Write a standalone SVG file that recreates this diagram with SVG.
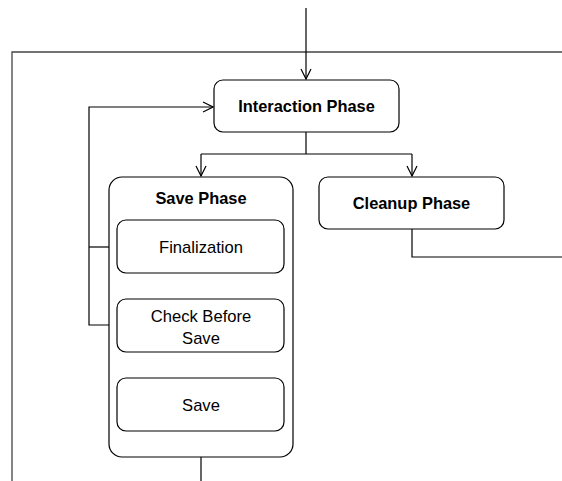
<svg xmlns="http://www.w3.org/2000/svg" width="562" height="481" viewBox="0 0 562 481">
<style>
.box{fill:#fff;stroke:#000;stroke-width:1.2}
.ln{fill:none;stroke:#000;stroke-width:1.2}
.frame{fill:none;stroke:#444;stroke-width:1.3}
text{font-family:"Liberation Sans",Arial,sans-serif;font-size:16.6px;text-anchor:middle;fill:#000}
.b{font-weight:bold;font-size:16.4px}
</style>
<defs>
<marker id="arr" viewBox="0 0 12 12" refX="11" refY="6" markerWidth="12" markerHeight="12" markerUnits="userSpaceOnUse" orient="auto">
<path d="M1,1 L11,6 L1,11" fill="none" stroke="#000" stroke-width="1.2"/>
</marker>
</defs>
<path class="frame" d="M562,52 H12 V481"/>
<g id="connectors">
<path class="ln" d="M306,8 V79" marker-end="url(#arr)"/>
<path class="ln" d="M306,132 V154 M201,154 H412"/>
<path class="ln" d="M201,154 V176" marker-end="url(#arr)"/>
<path class="ln" d="M412,154 V176" marker-end="url(#arr)"/>
<path class="ln" d="M412,229 V257 H562"/>
<path class="ln" d="M201,273 V298" marker-end="url(#arr)"/>
<path class="ln" d="M201,352 V377" marker-end="url(#arr)"/>
<path class="ln" d="M201,457 V481"/>
<path class="ln" d="M117,247 H89"/>
<path class="ln" d="M117,325 H89 V107 H213" marker-end="url(#arr)"/>
</g>
<g id="interaction">
<rect class="box" x="214" y="80" width="185" height="52" rx="9"/>
<text class="b" x="306.5" y="112">Interaction Phase</text>
</g>
<g id="savephase">
<rect class="box" x="109" y="177" width="184" height="280" rx="13"/>
<text class="b" x="201" y="204">Save Phase</text>
</g>
<g id="finalization">
<rect class="box" x="117" y="220" width="167" height="53" rx="9"/>
<text x="201" y="253">Finalization</text>
</g>
<g id="checkbeforesave">
<rect class="box" x="117" y="299" width="167" height="53" rx="9"/>
<text x="201" y="322">Check Before</text>
<text x="201" y="344">Save</text>
</g>
<g id="save">
<rect class="box" x="117" y="378" width="167" height="53" rx="9"/>
<text x="201" y="411">Save</text>
</g>
<g id="cleanup">
<rect class="box" x="319" y="177" width="185" height="52" rx="9"/>
<text class="b" x="411.5" y="209">Cleanup Phase</text>
</g>
</svg>
